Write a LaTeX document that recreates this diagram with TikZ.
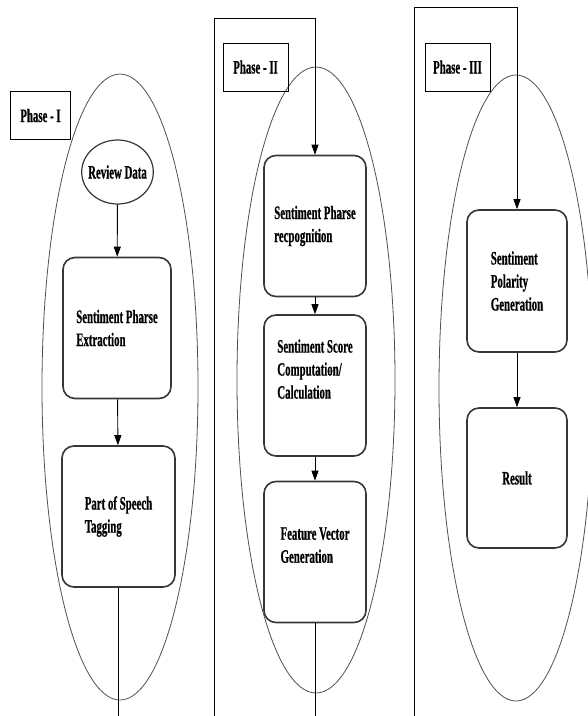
\documentclass[tikz,border=0pt]{standalone}
\usepackage{fontspec}
\usepackage{tikz}
\usetikzlibrary{shapes.geometric, arrows.meta}
\newfontfamily\narrowserif{Liberation Serif}[FakeStretch=0.57, FakeBold=0.6]
\definecolor{edge}{RGB}{55, 55, 55}
\definecolor{ring}{RGB}{80, 80, 80}

\begin{document}
\begin{tikzpicture}[x=1pt, y=-1pt,
    stage/.style={draw=edge, line width=1.6, rounded corners=12, align=left,
      minimum width=104, minimum height=141, inner sep=0},
    phasebox/.style={draw=black, line width=1, minimum width=60, minimum height=48,
      inner sep=0},
    flow/.style={draw=black, line width=0.9, -{Triangle[length=10pt, width=7pt]}},
    every node/.style={font=\narrowserif\bfseries\fontsize{19}{23}\selectfont}]
  \useasboundingbox[fill=white] (0, 0) rectangle (588, 716);

  % the three large ellipses
  \foreach \name/\cx/\cy/\rx in {ringone/120/387/156, ringtwo/316/380/158, ringthree/516/388/154} {
    \node[draw=ring, line width=0.8, ellipse, inner sep=0, minimum width=\rx,
      minimum height=626] (\name) at (\cx, \cy) {};
  }

  % phase labels
  \node[phasebox] (phaseone) at (40.5, 115.5) {Phase - I};
  \node[phasebox, minimum width=65] (phasetwo) at (255.5, 67) {Phase - II};
  \node[phasebox, minimum width=65] (phasethree) at (457.5, 67) {Phase - III};

  % phase I
  \node[draw=edge, line width=1.2, ellipse, minimum width=70, minimum height=64,
    inner xsep=-4pt, inner ysep=0] (review) at (117.5, 172) {Review Data};
  \node[stage, minimum width=108] (extract) at (117, 328) {Sentiment Pharse\\Extraction};
  \node[stage, minimum width=113] (pos) at (118.5, 516.5) {Part of Speech\\Tagging};

  % phase II
  \node[stage, minimum width=102] (recog) at (315, 226) {Sentiment Pharse\\recpognition};
  \node[stage, minimum width=102] (score) at (315, 385.5) {Sentiment Score\\Computation/\\Calculation\\[10pt]\mbox{}};
  \node[stage, minimum width=102] (feature) at (315, 552) {Feature Vector\\Generation\\[-9pt]\mbox{}};

  % phase III
  \node[stage, minimum width=100, minimum height=142] (polarity) at (517, 281) {Sentiment\\Polarity\\Generation};
  \node[stage, minimum width=100, minimum height=140] (result) at (517, 478) {Result};

  \coordinate (onefoot) at (0, 716);
  \coordinate (twofoot) at (214, 716);
  \coordinate (twotop) at (0, 18);
  \coordinate (threefoot) at (414, 716);
  \coordinate (threetop) at (0, 7);

  \draw[flow] (review) -- (extract);
  \draw[flow] (extract) -- (pos);
  \draw[line width=0.9] (pos.south) -- (pos.south |- onefoot);

  \draw[flow] (twofoot) |- (recog.north |- twotop) -- (recog.north);
  \draw[flow] (recog) -- (score);
  \draw[flow] (score) -- (feature);
  \draw[line width=0.9] (feature.south) -- (feature.south |- onefoot);

  \draw[flow] (threefoot) |- (polarity.north |- threetop) -- (polarity.north);
  \draw[flow] (polarity) -- (result);
\end{tikzpicture}
\end{document}
